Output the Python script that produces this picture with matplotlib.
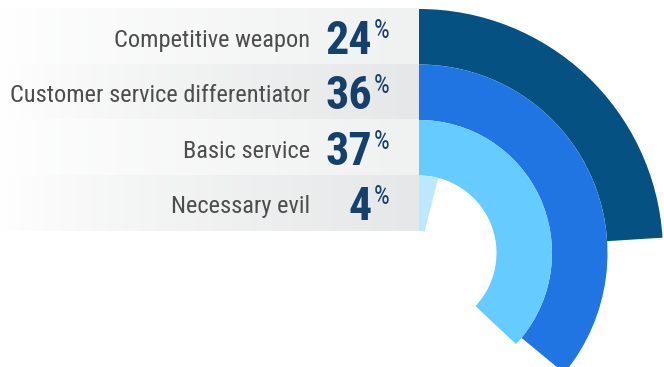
import numpy as np
import matplotlib.pyplot as plt
from matplotlib import font_manager as fm
from matplotlib.colors import LinearSegmentedColormap

labels = ["Competitive weapon", "Customer service differentiator", "Basic service", "Necessary evil"]
values = [24, 36, 37, 4]
ring_colors = ["#055182", "#2075E3", "#66CCFF", "#BBE8FD"]
row_shades = ["#F0F1F1", "#E6E7E8", "#F0F1F1", "#E6E7E8"]
label_color = "#4D4D4D"
num_color = "#16406C"

W, H = 664, 367
cx, cy = 419, 253      # ring centre in px (from top-left)
r_out = 244
band = 55.5
rmax = 246

# look for a narrow face; fall back to Roboto
narrow = [f for f in fm.fontManager.ttflist
          if f.stretch in ("condensed", "semi-condensed", "extra-condensed")
          or "Condensed" in f.name or "Narrow" in f.name]
pref = ["Roboto", "Noto Sans", "Open Sans", "Liberation Sans", "DejaVu Sans"]


def rank(f):
    for k, p in enumerate(pref):
        if f.name.startswith(p):
            return k
    return len(pref)


narrow.sort(key=rank)
reg = next((f for f in narrow if f.weight in (400, "normal", "regular") and f.style == "normal"), None)
if reg is not None:
    bold = next((f for f in narrow if f.name == reg.name and f.stretch == reg.stretch
                 and f.style == "normal" and f.weight in (700, "bold")), reg)
    fp_reg = fm.FontProperties(fname=reg.fname)
    fp_bold = fm.FontProperties(fname=bold.fname)
else:
    fp_reg = fm.FontProperties(family="Roboto")
    fp_bold = fm.FontProperties(family="Roboto", weight="bold")

fig = plt.figure(figsize=(W / 100, H / 100), dpi=100)

bg = fig.add_axes([0, 0, 1, 1])
bg.axis("off")

# label rows, white fading into grey towards the rings
for i, shade in enumerate(row_shades):
    y0 = 9 + band * i
    cmap = LinearSegmentedColormap.from_list("row", ["#FFFFFF", shade])
    grad = np.linspace(0, 1, 256)[None, :] ** 0.8
    bg.imshow(grad, cmap=cmap, extent=(0, cx, y0 + band, y0), aspect="auto", vmin=0, vmax=1)
bg.set_xlim(0, W)
bg.set_ylim(H, 0)

# rings
pax = fig.add_axes([(cx - rmax) / W, (H - cy - rmax) / H, 2 * rmax / W, 2 * rmax / H],
                   projection="polar")
pax.set_theta_zero_location("N")
pax.set_theta_direction(-1)
pax.set_ylim(0, rmax)
pax.axis("off")
pax.patch.set_alpha(0)
bottoms = [r_out - band * (i + 1) for i in range(len(values))]
pax.bar([0] * len(values), [band] * len(values), width=np.array(values) / 100 * 2 * np.pi,
        bottom=bottoms, align="edge", color=ring_colors, linewidth=0)

renderer = fig.canvas.get_renderer()

lab_size, num_size, pct_size = 20, 34, 18
labs, nums, pcts = [], [], []
for i, (lab, v) in enumerate(zip(labels, values)):
    yc = 9 + band * (i + 0.5)
    labs.append(bg.text(310, yc + 10, lab, ha="right", va="baseline", fontproperties=fp_reg,
                        fontsize=lab_size, color=label_color))
    nums.append(bg.text(372, yc + 17, str(v), ha="right", va="baseline", fontproperties=fp_bold,
                        fontsize=num_size, color=num_color))
    pcts.append(bg.text(374, yc - 18, "%", ha="left", va="top", fontproperties=fp_reg,
                        fontsize=pct_size, color=num_color))

# keep widths close to the reference when only a wide face is available
wmax = max(t.get_window_extent(renderer).width for t in labs)
if wmax > 300:
    for t in labs:
        t.set_fontsize(lab_size * 300 / wmax)
wnum = nums[0].get_window_extent(renderer).width
if wnum > 46:
    s = num_size * (46 / wnum) ** 0.6
    for t in nums:
        t.set_fontsize(s)
wp = pcts[0].get_window_extent(renderer).width
if wp > 17:
    for t in pcts:
        t.set_fontsize(pct_size * 17 / wp)

fig.savefig("out.png", dpi=100)
